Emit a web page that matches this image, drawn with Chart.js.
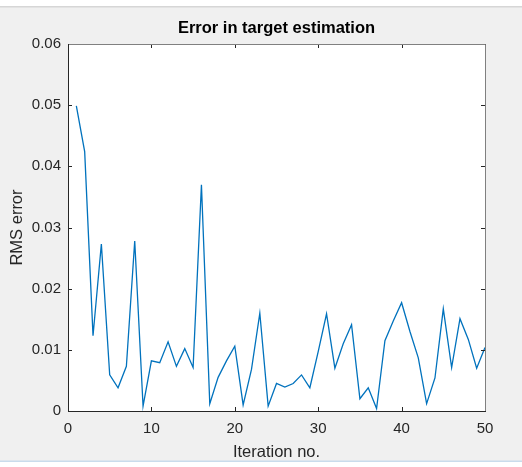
<!DOCTYPE html>
<html>
<head>
<meta charset="utf-8">
<script src="https://cdn.jsdelivr.net/npm/chart.js@4"></script>
<style>
  html, body { margin: 0; padding: 0; background: #f0f0f0; }
  canvas { display: block; }
</style>
</head>
<body>
<canvas id="errChart" width="522" height="467"></canvas>
<script>
// iteration numbers and RMS error
const iterations = [1, 2, 3, 4, 5, 6, 7, 8, 9, 10,
    11, 12, 13, 14, 15, 16, 17, 18, 19, 20,
    21, 22, 23, 24, 25, 26, 27, 28, 29, 30,
    31, 32, 33, 34, 35, 36, 37, 38, 39, 40,
    41, 42, 43, 44, 45, 46, 47, 48, 49, 50];
const rmsError = [0.0499, 0.0424, 0.0123, 0.0273, 0.0059, 0.0038, 0.0073, 0.0278, 0.0008, 0.0082,
    0.0079, 0.0113, 0.0073, 0.0102, 0.0071, 0.0370, 0.0012, 0.0055, 0.0082, 0.0106,
    0.0010, 0.0068, 0.0160, 0.0008, 0.0045, 0.0039, 0.0045, 0.0059, 0.0038, 0.0097,
    0.0159, 0.0070, 0.0110, 0.0141, 0.0020, 0.0038, 0.0004, 0.0115, 0.0147, 0.0177,
    0.0130, 0.0087, 0.0012, 0.0054, 0.0167, 0.0071, 0.0151, 0.0117, 0.0070, 0.0104];
const xTicks = [0, 10, 20, 30, 40, 50];
const yTicks = [0, 0.01, 0.02, 0.03, 0.04, 0.05, 0.06];

const points = iterations.map((it, i) => ({ x: it, y: rmsError[i] }));
const fontFam = '"Liberation Sans", Arial, Helvetica, sans-serif';
const textCol = '#262626';

// figure background, white axes area
const bgPlugin = {
    id: 'bg',
    beforeDraw(chart) {
        const c = chart.ctx, a = chart.chartArea;
        c.save();
        c.fillStyle = '#f0f0f0';
        c.fillRect(0, 0, chart.width, chart.height);
        c.fillStyle = '#ffffff';
        c.fillRect(0, 0, chart.width, 6);
        c.fillRect(0, 462, chart.width, chart.height - 462);
        c.fillStyle = '#d6d6d6';
        c.fillRect(0, 6, chart.width, 1.5);
        c.fillStyle = '#c9dcec';
        c.fillRect(0, 460.5, chart.width, 1.5);
        c.fillStyle = '#ffffff';
        c.fillRect(a.left, a.top, a.right - a.left, a.bottom - a.top);
        c.restore();
    }
};

// matlab style box with inward ticks
const boxPlugin = {
    id: 'box',
    afterDraw(chart) {
        const c = chart.ctx, a = chart.chartArea;
        const xs = chart.scales.x, ys = chart.scales.y;
        const len = 4;
        c.save();
        c.lineWidth = 1;
        c.strokeStyle = '#262626';
        c.beginPath();
        xTicks.forEach(v => {
            const px = Math.round(xs.getPixelForValue(v)) + 0.5;
            c.moveTo(px, a.bottom); c.lineTo(px, a.bottom - len);
            c.moveTo(px, a.top); c.lineTo(px, a.top + len);
        });
        yTicks.forEach(v => {
            const py = Math.round(ys.getPixelForValue(v)) + 0.5;
            c.moveTo(a.left, py); c.lineTo(a.left + len, py);
            c.moveTo(a.right, py); c.lineTo(a.right - len, py);
        });
        c.stroke();
        c.strokeStyle = '#808080';
        c.beginPath();
        c.moveTo(a.left, Math.round(a.top) + 0.5);
        c.lineTo(a.right + 0.5, Math.round(a.top) + 0.5);
        c.lineTo(Math.round(a.right) + 0.5, a.bottom);
        c.stroke();
        c.strokeStyle = '#262626';
        c.beginPath();
        c.moveTo(Math.round(a.left) + 0.5, a.top);
        c.lineTo(Math.round(a.left) + 0.5, Math.round(a.bottom) + 0.5);
        c.lineTo(a.right + 1, Math.round(a.bottom) + 0.5);
        c.stroke();
        c.restore();
    }
};

const ctx = document.getElementById('errChart').getContext('2d');
const errChart = new Chart(ctx, {
    type: 'line',
    data: {
        datasets: [{
            label: 'RMS error',
            data: points,
            borderColor: '#0072bd',
            borderWidth: 1.3,
            pointRadius: 0,
            tension: 0,
            fill: false
        }]
    },
    options: {
        responsive: false,
        animation: false,
        layout: { padding: { left: 0, top: 0, right: 37, bottom: 0 } },
        plugins: {
            legend: { display: false },
            tooltip: { enabled: false },
            title: {
                display: true,
                fullSize: false,
                text: 'Error in target estimation',
                color: '#000000',
                font: { family: fontFam, size: 16.5, weight: 'bold', lineHeight: 1.2 },
                padding: { top: 19, bottom: 5.2 }
            }
        },
        scales: {
            x: {
                type: 'linear',
                min: 0,
                max: 50,
                afterFit: s => { s.height = 56; },
                afterBuildTicks: s => { s.ticks = xTicks.map(v => ({ value: v })); },
                grid: { display: false, drawTicks: false },
                border: { display: false },
                ticks: {
                    color: textCol,
                    padding: 9,
                    maxRotation: 0,
                    font: { family: fontFam, size: 15 }
                },
                title: {
                    display: true,
                    text: 'Iteration no.',
                    color: textCol,
                    font: { family: fontFam, size: 16.5 },
                    padding: { top: 0, bottom: 5 }
                }
            },
            y: {
                min: 0,
                max: 0.06,
                afterFit: s => { s.width = 68; },
                afterBuildTicks: s => { s.ticks = yTicks.map(v => ({ value: v })); },
                grid: { display: false, drawTicks: false },
                border: { display: false },
                ticks: {
                    color: textCol,
                    padding: 7,
                    font: { family: fontFam, size: 15 },
                    callback: v => v === 0 ? '0' : v.toFixed(2)
                },
                title: {
                    display: true,
                    text: 'RMS error',
                    color: textCol,
                    font: { family: fontFam, size: 16.5 },
                    padding: { top: 8, bottom: 0 }
                }
            }
        }
    },
    plugins: [bgPlugin, boxPlugin]
});
</script>
</body>
</html>
